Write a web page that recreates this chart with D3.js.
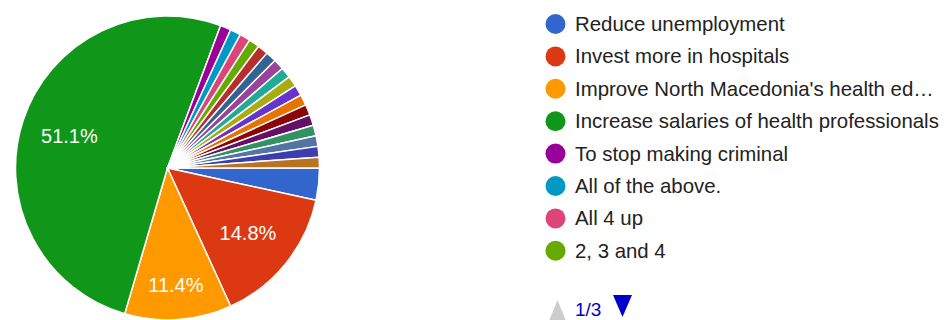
<!DOCTYPE html>
<html>
<head>
<meta charset="utf-8">
<script src="https://cdn.jsdelivr.net/npm/d3@7"></script>
<style>
  body { margin: 0; background: #fff; }
  svg { display: block; font-family: Arial, "Liberation Sans", sans-serif; }
</style>
</head>
<body>
<script>
// responses per answer, in slice order (clockwise from 3 o'clock)
var sliceValues = [3, 13, 10, 45, 1, 1, 1, 1, 1, 1, 1, 1, 1, 1, 1, 1, 1, 1, 1, 1, 1];
var sliceColors = ["#3366CC", "#DC3912", "#FF9900", "#109618", "#990099", "#0099C6",
  "#DD4477", "#66AA00", "#B82E2E", "#316395", "#994499", "#22AA99", "#AAAA11",
  "#6633CC", "#E67300", "#8B0707", "#651067", "#329262", "#5574A6", "#3B3EAC", "#B77322"];
// legend page 1 of 3
var legendLabels = [
  "Reduce unemployment",
  "Invest more in hospitals",
  "Improve North Macedonia's health ed\u2026",
  "Increase salaries of health professionals",
  "To stop making criminal",
  "All of the above.",
  "All 4 up",
  "2, 3 and 4"
];
var pageText = "1/3";

var width = 949, height = 320;
var cx = 167.5, cy = 168, radius = 152;

var svg = d3.select("body").append("svg")
  .attr("width", width)
  .attr("height", height);

var total = d3.sum(sliceValues);

var pie = d3.pie()
  .sort(null)
  .startAngle(Math.PI / 2)
  .endAngle(Math.PI / 2 + 2 * Math.PI);

var arcs = pie(sliceValues);

var arc = d3.arc().innerRadius(0).outerRadius(radius);

var g = svg.append("g").attr("transform", "translate(" + cx + "," + cy + ")");

g.selectAll("path.slice")
  .data(arcs)
  .enter()
  .append("path")
  .attr("class", "slice")
  .attr("d", arc)
  .attr("fill", function(d, i){ return sliceColors[i]; })
  .attr("stroke", "#fff")
  .attr("stroke-width", 1.5)
  .attr("stroke-linejoin", "round");

// percentage labels for the bigger slices
g.selectAll("text.pct")
  .data(arcs.filter(function(d){ return d.value / total >= 0.05; }))
  .enter()
  .append("text")
  .attr("class", "pct")
  .attr("transform", function(d){
    var span = d.endAngle - d.startAngle;
    var r = radius * (span < 0.8 ? 0.77 : 0.68);
    var a = (d.startAngle + d.endAngle) / 2;
    return "translate(" + (r * Math.sin(a)) + "," + (-r * Math.cos(a)) + ")";
  })
  .attr("text-anchor", "middle")
  .attr("dy", "0.36em")
  .attr("fill", "#fff")
  .style("font-size", "20px")
  .text(function(d){ return (d.value / total * 100).toFixed(1) + "%"; });

// legend
var rowY = d3.scaleLinear().domain([0, 1]).range([24, 56.4]);

var legend = svg.selectAll("g.legend")
  .data(legendLabels)
  .enter()
  .append("g")
  .attr("class", "legend")
  .attr("transform", function(d, i){ return "translate(555.5," + rowY(i) + ")"; });

legend.append("circle")
  .attr("r", 10)
  .attr("fill", function(d, i){ return sliceColors[i]; });

legend.append("text")
  .attr("x", 19.5)
  .attr("y", 7)
  .attr("fill", "#222")
  .style("font-size", "20.4px")
  .text(function(d){ return d; });

// pager
svg.append("path")
  .attr("d", "M549,321L557.5,300L566,321Z")
  .attr("fill", "#ccc");

svg.append("text")
  .attr("x", 575)
  .attr("y", 316)
  .attr("fill", "#0000cc")
  .style("font-size", "19px")
  .text(pageText);

svg.append("path")
  .attr("d", "M613,295L632,295L622.5,317Z")
  .attr("fill", "#0000cc");
</script>
</body>
</html>
